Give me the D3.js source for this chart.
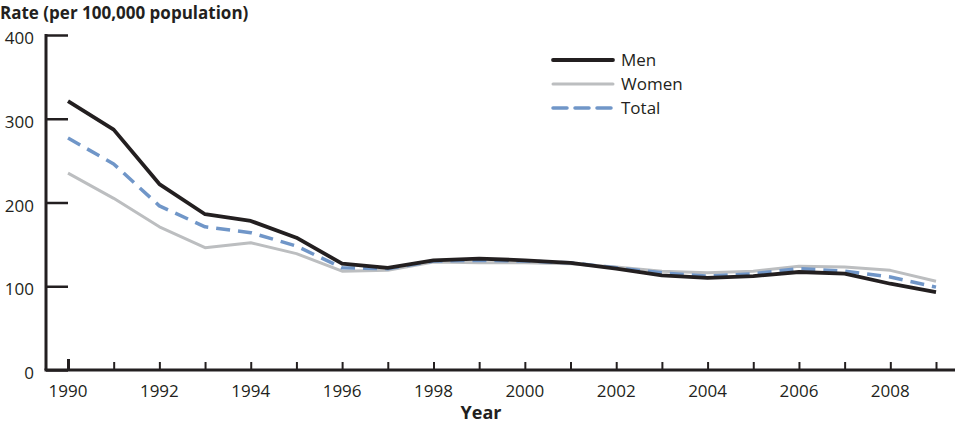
<!DOCTYPE html>
<html lang="en">
<head>
<meta charset="UTF-8">
<title>Rate per 100,000</title>
<script src="https://d3js.org/d3.v7.min.js"></script>
<style>
    body { margin: 0; background: #fff; }
    text { font-family: "Open Sans", "DejaVu Sans", sans-serif; fill: #231f20; }
</style>
</head>
<body>
<svg width="960" height="427"></svg>
<script>
    // values
    const years = d3.range(1990, 2010);
    const men   = [321, 287, 222, 186, 178, 158, 127, 122, 131, 133, 131, 128, 121, 113, 110, 112, 117, 115, 103, 93];
    const women = [235, 205, 171, 146, 152, 139, 118, 119, 129, 128, 128, 127, 123, 118, 116, 118, 124, 123, 119, 106];
    const total = [277, 246, 196, 171, 164, 148, 122, 121, 130, 131, 130, 128, 122, 116, 112, 115, 121, 118, 111, 99];
    const yTicks = [0, 100, 200, 300, 400];
    const xLabels = [1990, 1992, 1994, 1996, 1998, 2000, 2002, 2004, 2006, 2008];

    const series = [
        {name: 'Men', values: men, color: '#231f20', width: 3.8, dash: null},
        {name: 'Women', values: women, color: '#bcbec0', width: 3, dash: null},
        {name: 'Total', values: total, color: '#7096c8', width: 3.5, dash: '14,8'}
    ];

    const svg = d3.select('svg');
    const axisX = 46, y0 = 370, yTop = 35, xEnd = 955;

    let x = d3.scaleLinear().domain([1990, 2009]).range([68, 936]);
    let y = d3.scaleLinear().domain([0, 400]).range([y0, yTop]);

    // y axis: ticks point inward
    let gy = svg.append('g').attr('transform', 'translate(' + axisX + ',0)')
        .call(d3.axisRight(y).tickValues(yTicks).tickSize(22).tickFormat(d3.format('d')));
    gy.select('.domain').remove();
    gy.selectAll('.tick line').attr('stroke', '#231f20').attr('stroke-width', 2.5);
    gy.selectAll('.tick text').attr('x', -12).attr('dy', '0.5em').attr('text-anchor', 'end')
        .style('font-size', '17px');
    svg.append('line').attr('x1', axisX).attr('x2', axisX).attr('y1', yTop - 1).attr('y2', y0)
        .attr('stroke', '#231f20').attr('stroke-width', 3);

    // x axis: ticks point up
    let gx = svg.append('g').attr('transform', 'translate(0,' + y0 + ')')
        .call(d3.axisTop(x).tickValues(years).tickSize(8).tickFormat(''));
    gx.select('.domain').remove();
    gx.selectAll('.tick line').attr('stroke', '#231f20').attr('stroke-width', 2);
    gx.selectAll('.tick').filter(d => d === 1990).select('line').attr('y2', -11).attr('stroke-width', 3);
    svg.append('line').attr('x1', axisX - 1.5).attr('x2', xEnd).attr('y1', y0).attr('y2', y0)
        .attr('stroke', '#231f20').attr('stroke-width', 3);

    svg.append('g').selectAll('text').data(xLabels).enter().append('text')
        .attr('x', d => x(d)).attr('y', y0 + 27).attr('text-anchor', 'middle')
        .style('font-size', '17px').text(d => d);

    // lines, drawn women first and men last
    let order = ['Women', 'Total', 'Men'];
    let line = d3.line().x((d, i) => x(years[i])).y(d => y(d));
    svg.append('g').selectAll('path')
        .data(series.slice().sort((a, b) => order.indexOf(a.name) - order.indexOf(b.name)))
        .enter().append('path')
        .attr('d', s => line(s.values))
        .attr('fill', 'none')
        .attr('stroke', s => s.color)
        .attr('stroke-width', s => s.width)
        .attr('stroke-dasharray', s => s.dash)
        .attr('stroke-linejoin', 'round');

    // legend
    let lg = svg.append('g').attr('transform', 'translate(553,60)');
    let item = lg.selectAll('g').data(series).enter().append('g')
        .attr('transform', (d, i) => 'translate(0,' + i * 24 + ')');
    item.append('line').attr('x1', 0).attr('x2', 60)
        .attr('stroke', d => d.color).attr('stroke-width', d => d.width)
        .attr('stroke-dasharray', d => d.dash).attr('stroke-linecap', 'round');
    item.append('text').attr('x', 68).attr('dy', '0.35em').style('font-size', '17px').text(d => d.name);

    // titles
    svg.append('text').attr('x', 0).attr('y', 19).style('font-size', '17px').style('font-weight', 'bold')
        .text('Rate (per 100,000 population)');
    svg.append('text').attr('x', 481).attr('y', 419).attr('text-anchor', 'middle')
        .style('font-size', '18px').style('font-weight', 'bold').text('Year');
</script>
</body>
</html>
